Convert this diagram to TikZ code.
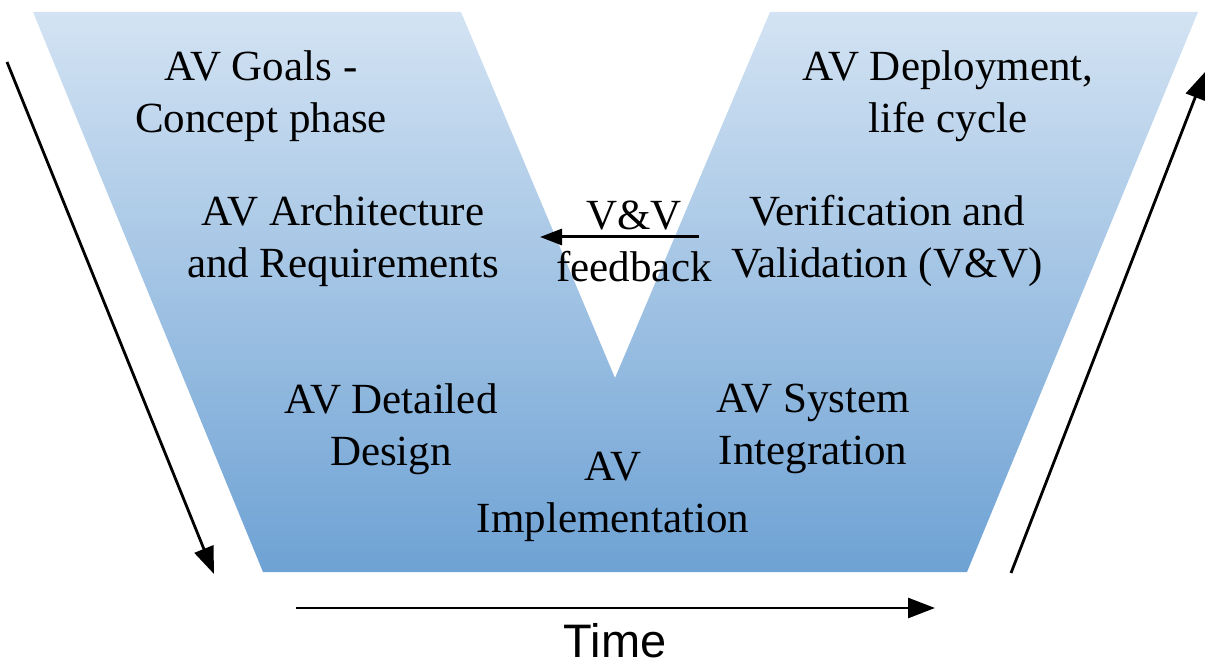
\documentclass[tikz,border=0pt]{standalone}
\usepackage{fontspec}
\setmainfont{Liberation Serif}
\newfontfamily\timefont{Liberation Sans}
\usetikzlibrary{arrows.meta}
\definecolor{vtop}{RGB}{211,227,243}
\definecolor{vbottom}{RGB}{110,162,212}
\tikzstyle{phase} = [align=center, font=\fontsize{43}{52}\selectfont, inner sep=0pt]
\tikzstyle{arrow} = [line width=2.8pt, -{Triangle[length=27pt,width=20pt]}]
\tikzstyle{feedback} = [line width=3pt, -{Triangle[length=22pt,width=16pt]}]

\begin{document}
\begin{tikzpicture}[x=1pt, y=-1pt]
\useasboundingbox (0,0) rectangle (1207,668);

% the V
\shade[top color=vtop, bottom color=vbottom] (33,12) -- (461,12) -- (615,378) -- (770,12) -- (1198,12) -- (967,572) -- (263,572) -- cycle;

\node (goals) [phase] at (261,96) {AV Goals -\\Concept phase};
\node (deploy) [phase] at (948,96) {AV Deployment,\\life cycle};
\node (arch) [phase] at (343,241) {AV Architecture\\and Requirements};
\node (vv) [phase] at (887,241) {Verification and\\Validation (V\&V)};
\node (fb) [phase] at (634,241) {V\&V\\feedback};
\node (design) [phase] at (391,429) {AV Detailed\\Design};
\node (integ) [phase] at (813,429) {AV System\\Integration};
\node (impl) [phase] at (613,497) {AV\\Implementation};

\node (time) [font=\timefont\fontsize{47}{47}\selectfont, inner sep=0pt] at (615,641) {Time};

\coordinate (fbstart) at (699,237);
\coordinate (fbend) at (540,237);
\coordinate (downstart) at (7,62);
\coordinate (downend) at (214,574);
\coordinate (upstart) at (1011,573);
\coordinate (upend) at (1205,72);
\coordinate (timestart) at (296,608);
\coordinate (timeend) at (935,608);

\draw [feedback] (fbstart) -- (fbend);
\draw [arrow] (downstart) -- (downend);
\draw [arrow] (upstart) -- (upend);
\draw [arrow] (timestart) -- (timeend);

\end{tikzpicture}
\end{document}
